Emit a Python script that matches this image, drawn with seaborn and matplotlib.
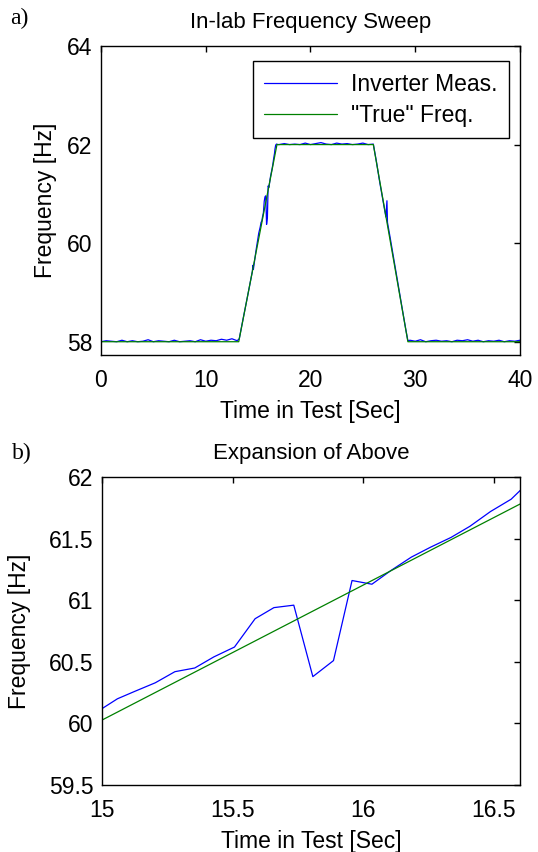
import matplotlib
matplotlib.use("Agg")
import matplotlib.pyplot as plt
import seaborn as sns
import pandas as pd
from matplotlib.ticker import FuncFormatter

# ---------------- data ----------------
# "True" frequency breakpoints (s, Hz)
true_t = [0.0, 13.15, 16.8, 26.0, 29.3, 40.0]
true_f = [58.0, 58.0, 62.0, 62.0, 58.0, 58.0]

flat1_t = [0.0, 0.5, 1.0, 1.5, 2.0, 2.5, 3.0, 3.5, 4.0, 4.5, 5.0, 5.5, 6.0, 6.5,
           7.0, 7.5, 8.0, 8.5, 9.0, 9.5, 10.0, 10.5, 11.0, 11.5, 12.0, 12.5, 13.0]
flat1_f = [58.00, 58.02, 58.01, 58.00, 58.03, 58.00, 58.02, 58.00, 58.01, 58.04,
           58.00, 58.02, 58.01, 58.00, 58.03, 58.00, 58.01, 58.02, 58.00, 58.04,
           58.01, 58.03, 58.02, 58.05, 58.03, 58.06, 58.02]
rampup_t = [13.2, 13.6, 14.0, 14.4, 14.45, 14.5, 14.55, 14.8,
            15.0, 15.059, 15.125, 15.204, 15.279, 15.355, 15.428, 15.507,
            15.586, 15.658, 15.734, 15.807, 15.886, 15.957, 16.033, 16.105,
            16.184, 16.257, 16.336, 16.408, 16.487, 16.566, 16.605,
            16.68, 16.75, 16.9]
rampup_f = [58.06, 58.50, 58.93, 59.37, 59.42, 59.55, 59.47, 59.85,
            60.12, 60.20, 60.26, 60.33, 60.42, 60.45, 60.54, 60.62,
            60.85, 60.94, 60.96, 60.38, 60.51, 61.16, 61.13, 61.24,
            61.35, 61.43, 61.51, 61.60, 61.72, 61.82, 61.90,
            61.99, 62.01, 62.00]
flat2_t = [17.0, 17.5, 18.0, 18.5, 19.0, 19.5, 20.0, 20.5, 21.0, 21.5, 22.0,
           22.5, 23.0, 23.5, 24.0, 24.5, 25.0, 25.5, 26.0]
flat2_f = [62.00, 62.02, 62.00, 62.01, 62.00, 62.03, 62.00, 62.02, 62.04, 62.01,
           62.00, 62.03, 62.01, 62.02, 62.00, 62.01, 62.03, 62.00, 62.01]
rampdn_t = [26.3, 26.6, 27.0, 27.2, 27.3, 27.35, 27.6, 28.0, 28.4, 28.8, 29.1, 29.3]
rampdn_f = [61.65, 61.25, 60.77, 60.53, 60.86, 60.42, 60.12, 59.62, 59.12,
            58.62, 58.25, 58.02]
flat3_t = [29.5, 30.0, 30.5, 31.0, 31.5, 32.0, 32.5, 33.0, 33.5, 34.0, 34.5,
           35.0, 35.5, 36.0, 36.5, 37.0, 37.5, 38.0, 38.5, 39.0, 39.5, 40.0]
flat3_f = [58.03, 58.01, 58.04, 58.00, 58.02, 58.03, 58.01, 58.02, 58.00, 58.03,
           58.02, 58.04, 58.01, 58.03, 58.00, 58.02, 58.01, 58.03, 58.00, 58.02,
           58.01, 58.03]

meas_t = flat1_t + rampup_t + flat2_t + rampdn_t + flat3_t
meas_f = flat1_f + rampup_f + flat2_f + rampdn_f + flat3_f

labels = ["Inverter Meas.", '"True" Freq.']
top_xticks = [0, 10, 20, 30, 40]
top_yticks = [58, 60, 62, 64]
bot_xticks = [15, 15.5, 16, 16.5]
bot_yticks = [59.5, 60, 60.5, 61, 61.5, 62]

meas_df = pd.DataFrame({"t": meas_t, "f": meas_f})
true_df = pd.DataFrame({"t": true_t, "f": true_f})

# ---------------- style ----------------
sns.set_style("white")
plt.rcParams["font.family"] = ["Liberation Sans", "DejaVu Sans"]
plt.rcParams["text.color"] = "black"
plt.rcParams["axes.labelcolor"] = "black"
plt.rcParams["xtick.color"] = "black"
plt.rcParams["ytick.color"] = "black"
FS = 16.5
BLUE = "#0000FF"
GREEN = "#008000"

fig = plt.figure(figsize=(5.38, 8.52), dpi=100)
ax1 = fig.add_axes([0.1877, 0.5833, 0.7788, 0.3627])
ax2 = fig.add_axes([0.1896, 0.0786, 0.7770, 0.3615])

fmt = FuncFormatter(lambda v, p: "%g" % v)

for ax in (ax1, ax2):
    sns.lineplot(data=meas_df, x="t", y="f", ax=ax, color=BLUE, lw=0.9,
                 sort=False, estimator=None, label=labels[0])
    sns.lineplot(data=true_df, x="t", y="f", ax=ax, color=GREEN, lw=0.9,
                 sort=False, estimator=None, label=labels[1])
    ax.tick_params(direction="in", length=4, width=1, top=True, right=True,
                   labelsize=FS, colors="black")
    ax.tick_params(axis="x", pad=10)
    ax.tick_params(axis="y", pad=6)
    for s in ax.spines.values():
        s.set_color("black")
        s.set_linewidth(1.0)
    ax.set_xlabel("Time in Test [Sec]", fontsize=FS, labelpad=6, color="black")
    ax.set_ylabel("Frequency [Hz]", fontsize=FS, color="black")
    ax.xaxis.set_major_formatter(fmt)
    ax.yaxis.set_major_formatter(fmt)

ax1.set_xlim(0, 40)
ax1.set_ylim(57.73, 64)
ax1.set_xticks(top_xticks)
ax1.set_yticks(top_yticks)
ax1.set_title("In-lab Frequency Sweep", fontsize=16, pad=13, color="black")
ax1.yaxis.labelpad = 7
leg = ax1.legend(loc="upper right", bbox_to_anchor=(0.974, 0.95),
                 borderaxespad=0, fontsize=FS, fancybox=False, framealpha=1,
                 edgecolor="black", handlelength=3.2, handletextpad=0.6,
                 labelspacing=0.35, borderpad=0.5)
leg.get_frame().set_linewidth(1.0)
for t in leg.get_texts():
    t.set_color("black")

ax2.set_xlim(15, 16.6)
ax2.set_ylim(59.5, 62)
ax2.set_xticks(bot_xticks)
ax2.set_yticks(bot_yticks)
ax2.set_title("Expansion of Above", fontsize=16, pad=13, color="black")
ax2.yaxis.labelpad = 13
ax2.get_legend().remove()

fig.text(0.018, 0.978, "a)", fontsize=17, family=["Liberation Serif", "DejaVu Serif"],
         va="center", ha="left", color="black")
fig.text(0.022, 0.468, "b)", fontsize=17, family=["Liberation Serif", "DejaVu Serif"],
         va="center", ha="left", color="black")

fig.savefig("out.png", dpi=100)
